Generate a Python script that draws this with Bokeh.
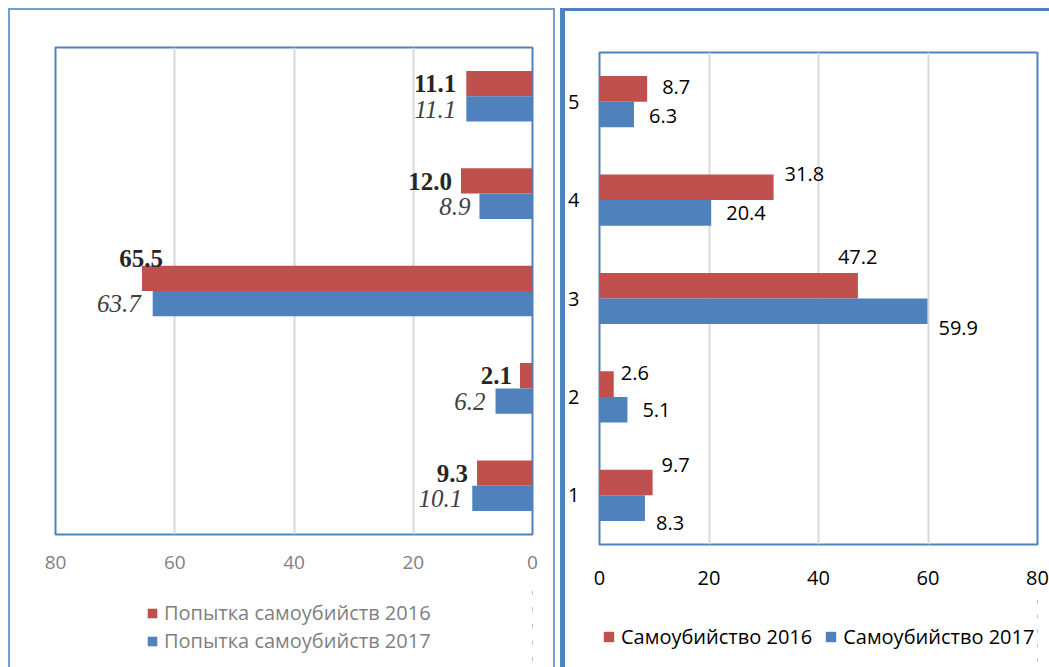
from bokeh.plotting import figure
from bokeh.models import Range1d, FactorRange, FixedTicker, Legend, LegendItem, ColumnDataSource
from bokeh.layouts import row, column
from bokeh.transform import dodge
from bokeh.embed import file_html
from bokeh.resources import INLINE
from bokeh.core.properties import value

# ---- data ----
categories = ["1", "2", "3", "4", "5"]
attempts_2016 = [9.3, 2.1, 65.5, 12.0, 11.1]
attempts_2017 = [10.1, 6.2, 63.7, 8.9, 11.1]
suicides_2016 = [9.7, 2.6, 47.2, 31.8, 8.7]
suicides_2017 = [8.3, 5.1, 59.9, 20.4, 6.3]
x_ticks = [0, 20, 40, 60, 80]
left_legend = ["Попытка самоубийств 2016", "Попытка самоубийств 2017"]
right_legend = ["Самоубийство 2016", "Самоубийство 2017"]

# ---- label offsets (screen px) ----
l_red_xo = [-9, -8, 21, -9, -10]
l_red_yo = [0.5, 0, -19.5, 1, 0]
l_blue_xo = [-10, -10, -12, -9, -10]
l_blue_yo = [0, 0, 0, 0, 1]
r_red_xo = [9, 7, -20, 11, 15]
r_red_yo = [-17.5, -11.5, -29, -13.5, -1.5]
r_blue_xo = [11, 15, 11, 15, 15]
r_blue_yo = [14.5, 0.5, 17, 0.5, 1.5]

RED = "#C0504D"
BLUE = "#4F81BD"
GRID = "#D9D9D9"
DOFF = 0.13
BH = 0.26


def fmt(vals):
    return [f"{v:.1f}" for v in vals]


def legend_fig(width, height, src, labels, loc, orientation, font_size, color, gsize, spacing):
    # legend-only strip; its bars lie far outside the visible x range, only the legend shows
    f = figure(width=width, height=height, x_range=Range1d(-200, -100),
               y_range=FactorRange(factors=categories),
               x_axis_location=None, y_axis_location=None,
               output_backend="svg", toolbar_location=None, min_border=0)
    f.outline_line_color = None
    f.xgrid.grid_line_color = None
    f.ygrid.grid_line_color = None
    r1 = f.hbar(y="cat", left=0, right="v16", height=BH, source=src,
                fill_color=RED, line_color=None)
    r2 = f.hbar(y="cat", left=0, right="v17", height=BH, source=src,
                fill_color=BLUE, line_color=None)
    leg = Legend(items=[LegendItem(label=labels[0], renderers=[r1]),
                        LegendItem(label=labels[1], renderers=[r2])],
                 location=loc, orientation=orientation,
                 glyph_width=gsize, glyph_height=gsize, label_standoff=6, spacing=spacing,
                 padding=0, margin=0, border_line_color=None, background_fill_alpha=0,
                 label_text_font="Open Sans", label_text_font_size=font_size,
                 label_text_color=color, label_height=20)
    f.add_layout(leg)
    return f


# ================= LEFT =================
src_l = ColumnDataSource(dict(cat=categories, v16=attempts_2016, v17=attempts_2017,
                              t16=fmt(attempts_2016), t17=fmt(attempts_2017),
                              xo16=l_red_xo, yo16=l_red_yo, xo17=l_blue_xo, yo17=l_blue_yo))

pl = figure(width=543, height=574, x_range=Range1d(80, 0),
            y_range=FactorRange(factors=categories), y_axis_location=None,
            output_backend="svg", toolbar_location=None,
            min_border_left=45, min_border_right=21, min_border_top=37, min_border_bottom=50)
pl.background_fill_color = "white"
pl.border_fill_color = "white"
pl.outline_line_color = BLUE
pl.outline_line_width = 2

pl.hbar(y=dodge("cat", DOFF, range=pl.y_range), height=BH, left=0, right="v16",
        source=src_l, fill_color=RED, line_color=None)
pl.hbar(y=dodge("cat", -DOFF, range=pl.y_range), height=BH, left=0, right="v17",
        source=src_l, fill_color=BLUE, line_color=None)

pl.text(x="v16", y=dodge("cat", DOFF, range=pl.y_range), text="t16", source=src_l,
        x_offset="xo16", y_offset="yo16", text_align="right", text_baseline="middle",
        text_font=value("Liberation Serif"), text_font_size="25px", text_font_style="bold",
        text_color="#262626")
pl.text(x="v17", y=dodge("cat", -DOFF, range=pl.y_range), text="t17", source=src_l,
        x_offset="xo17", y_offset="yo17", text_align="right", text_baseline="middle",
        text_font=value("Liberation Serif"), text_font_size="25px", text_font_style="italic",
        text_color="#404040")

pl.xaxis.ticker = FixedTicker(ticks=x_ticks)
pl.xaxis.axis_line_color = None
pl.xaxis.major_tick_line_color = None
pl.xaxis.minor_tick_line_color = None
pl.xaxis.major_label_standoff = 15
pl.xaxis.major_label_text_font = "Open Sans"
pl.xaxis.major_label_text_font_size = "19px"
pl.xaxis.major_label_text_color = "#7F7F7F"
pl.xgrid.ticker = FixedTicker(ticks=x_ticks)
pl.xgrid.grid_line_color = GRID
pl.xgrid.grid_line_width = 2
pl.ygrid.grid_line_color = None

pl_leg = legend_fig(543, 83, src_l, left_legend, (91, 13), "vertical", "20px", "#7F7F7F", 12, 1)

# ================= RIGHT =================
src_r = ColumnDataSource(dict(cat=categories, v16=suicides_2016, v17=suicides_2017,
                              t16=fmt(suicides_2016), t17=fmt(suicides_2017),
                              xo16=r_red_xo, yo16=r_red_yo, xo17=r_blue_xo, yo17=r_blue_yo))

pr = figure(width=484, height=583, x_range=Range1d(0, 80),
            y_range=FactorRange(factors=categories),
            output_backend="svg", toolbar_location=None,
            min_border_left=34, min_border_right=12, min_border_top=41, min_border_bottom=50)
pr.background_fill_color = "white"
pr.border_fill_color = "white"
pr.outline_line_color = BLUE
pr.outline_line_width = 2

pr.hbar(y=dodge("cat", DOFF, range=pr.y_range), height=BH, left=0, right="v16",
        source=src_r, fill_color=RED, line_color=None)
pr.hbar(y=dodge("cat", -DOFF, range=pr.y_range), height=BH, left=0, right="v17",
        source=src_r, fill_color=BLUE, line_color=None)

for col, off in (("16", DOFF), ("17", -DOFF)):
    pr.text(x="v" + col, y=dodge("cat", off, range=pr.y_range), text="t" + col, source=src_r,
            x_offset="xo" + col, y_offset="yo" + col, text_align="left", text_baseline="middle",
            text_font=value("Open Sans"), text_font_size="20px", text_color="#000000")

pr.xaxis.ticker = FixedTicker(ticks=x_ticks)
for ax in (pr.xaxis, pr.yaxis):
    ax.axis_line_color = None
    ax.major_tick_line_color = None
    ax.minor_tick_line_color = None
    ax.major_label_text_font = "Open Sans"
    ax.major_label_text_font_size = "20px"
    ax.major_label_text_color = "#000000"
pr.xaxis.major_label_standoff = 20
pr.yaxis.major_label_standoff = 14
pr.xgrid.ticker = FixedTicker(ticks=x_ticks)
pr.xgrid.grid_line_color = GRID
pr.xgrid.grid_line_width = 2
pr.ygrid.grid_line_color = None

pr_leg = legend_fig(484, 73, src_r, right_legend, (3, 17), "horizontal", "20px", "#000000", 13, 12)

left_wrap = column(pl, pl_leg, spacing=0,
                   styles={"border-left": "2px solid #7A9CCC",
                           "border-top": "2px solid #7A9CCC",
                           "border-right": "2px solid #7A9CCC"})
right_wrap = column(pr, pr_leg, spacing=0,
                    styles={"border-left": "5px solid #4F81BD",
                            "border-top": "3px solid #4F81BD",
                            "margin-left": "5px"})
layout = row(left_wrap, right_wrap, styles={"margin-left": "8px", "margin-top": "8px"})

with open("out.html", "w") as f:
    f.write(file_html(layout, INLINE))
